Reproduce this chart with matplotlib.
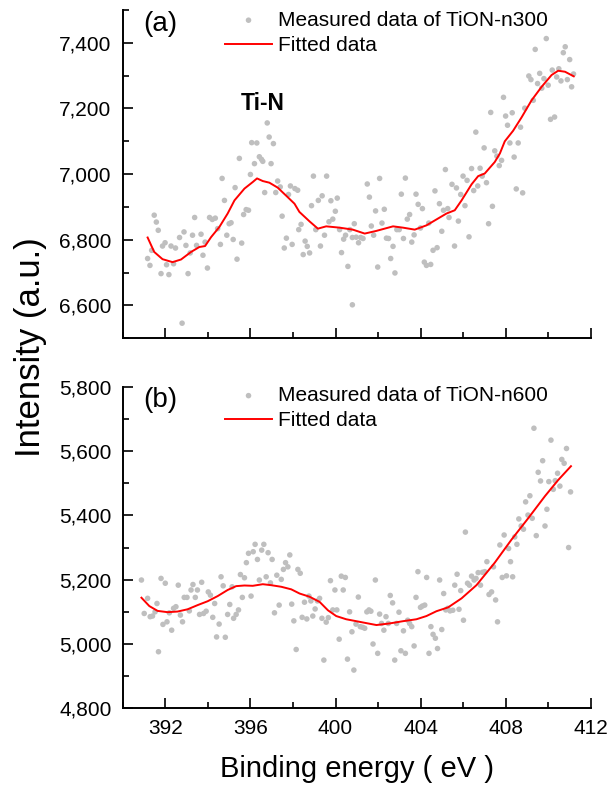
import matplotlib
matplotlib.use("Agg")
import matplotlib.pyplot as plt
from matplotlib.ticker import MultipleLocator, FuncFormatter

plt.rcParams['font.family'] = ['Liberation Sans', 'DejaVu Sans']

# ---------------- Panel (a): TiON-n300 ----------------
a_meas_x = [391.17, 391.28, 391.36, 391.48, 391.58, 391.67, 391.80, 391.87, 391.99, 392.06,
            392.17, 392.27, 392.39, 392.48, 392.67, 392.79, 392.88, 392.97, 393.07, 393.17,
            393.28, 393.38, 393.47, 393.68, 393.77, 393.87, 393.98, 394.08, 394.21, 394.35,
            394.46, 394.59, 394.67, 394.78, 394.89, 395.00, 395.09, 395.19, 395.28, 395.37,
            395.48, 395.59, 395.68, 395.80, 395.91, 396.00, 396.06, 396.19, 396.30, 396.42,
            396.52, 396.58, 396.67, 396.79, 396.88, 396.97, 397.08, 397.19, 397.28, 397.40,
            397.49, 397.59, 397.69, 397.79, 397.88, 397.96, 398.09, 398.22, 398.27, 398.38,
            398.48, 398.57, 398.67, 398.78, 398.87, 398.96, 399.07, 399.19, 399.29, 399.37,
            399.48, 399.58, 399.69, 399.78, 399.87, 399.99, 400.08, 400.19, 400.28, 400.38,
            400.47, 400.58, 400.67, 400.79, 400.79, 400.88, 400.97, 401.08, 401.18, 401.29,
            401.49, 401.59, 401.68, 401.79, 401.88, 401.98, 402.07, 402.18, 402.29, 402.39,
            402.49, 402.59, 402.70, 402.79, 402.88, 402.99, 403.09, 403.19, 403.28, 403.37,
            403.48, 403.58, 403.69, 403.78, 403.88, 403.99, 404.08, 404.17, 404.27, 404.38,
            404.47, 404.58, 404.67, 404.77, 404.88, 404.99, 405.07, 405.16, 405.27, 405.33,
            405.47, 405.59, 405.68, 405.77, 405.88, 405.99, 406.08, 406.18, 406.27, 406.39,
            406.49, 406.59, 406.68, 406.79, 406.89, 406.98, 407.09, 407.19, 407.29, 407.37,
            407.48, 407.58, 407.69, 407.80, 407.89, 407.99, 408.08, 408.19, 408.30, 408.39,
            408.49, 408.58, 408.69, 408.79, 408.89, 409.08, 409.18, 409.29, 409.38, 409.49,
            409.59, 409.69, 409.79, 409.90, 409.99, 410.10, 410.18, 410.29, 410.39, 410.49,
            410.59, 410.70, 410.79, 410.89, 411.00, 411.09, 411.18]
a_meas_y = [6743, 6722, 6768, 6875, 6854, 6829, 6697, 6781, 6791, 6724,
            6694, 6781, 6727, 6775, 6807, 6546, 6824, 6783, 6697, 6760,
            6814, 6868, 6783, 6817, 6753, 6793, 6714, 6868, 6862, 6866,
            6834, 6786, 6987, 6920, 6814, 6849, 6852, 6801, 6959, 6741,
            7048, 6790, 6877, 6892, 6890, 6999, 7096, 7032, 7095, 7053,
            7045, 7039, 6944, 7156, 7113, 7032, 7093, 6944, 6979, 6961,
            6872, 6775, 6805, 6938, 6964, 6786, 6956, 6951, 6831, 6847,
            6755, 6796, 6780, 6760, 6904, 6994, 6831, 6920, 6781, 6934,
            6814, 6994, 6855, 6919, 6863, 6887, 6927, 6831, 6761, 6802,
            6814, 6719, 6831, 6807, 6602, 6849, 6808, 6791, 6807, 6804,
            6970, 6930, 6842, 6814, 6888, 6717, 6987, 6851, 6893, 6805,
            6804, 6743, 6780, 6699, 6831, 6831, 6939, 6804, 6988, 6863,
            6877, 6793, 6815, 6939, 6908, 6836, 6895, 6732, 6722, 6851,
            6725, 6768, 6949, 6776, 6910, 6826, 6890, 7014, 6895, 6868,
            6969, 6781, 6958, 6857, 6938, 6994, 6904, 6981, 6809, 7017,
            6950, 7128, 6964, 7018, 6994, 7080, 6974, 6849, 7188, 6902,
            7071, 7055, 7026, 7042, 7234, 7177, 7149, 7095, 7187, 7052,
            6955, 7095, 7143, 6943, 7201, 7299, 7288, 7225, 7380, 7276,
            7307, 7262, 7291, 7413, 7271, 7167, 7317, 7174, 7296, 7321,
            7284, 7370, 7388, 7288, 7349, 7266, 7305]
a_fit_x = [391.17, 391.48, 391.87, 392.34, 392.74, 393.21, 393.60, 393.87, 394.15, 394.54,
           394.93, 395.25, 395.72, 396.11, 396.31, 396.58, 396.89, 397.28, 397.75, 398.07,
           398.30, 398.78, 399.17, 399.56, 400.19, 400.81, 401.37, 401.91, 402.70, 403.17,
           403.72, 404.27, 404.74, 405.21, 405.60, 405.92, 406.39, 406.70, 407.01, 407.48,
           407.72, 407.95, 408.34, 408.74, 409.21, 409.68, 410.15, 410.46, 410.78, 411.19]
a_fit_y = [6807, 6763, 6741, 6732, 6740, 6763, 6778, 6781, 6808, 6839,
           6880, 6920, 6956, 6976, 6987, 6979, 6974, 6959, 6930, 6910,
           6885, 6856, 6834, 6841, 6837, 6831, 6819, 6827, 6841, 6837,
           6831, 6844, 6862, 6880, 6890, 6920, 6969, 6994, 7002, 7037,
           7063, 7100, 7132, 7173, 7225, 7266, 7302, 7315, 7312, 7298]

# ---------------- Panel (b): TiON-n600 ----------------
b_meas_x = [390.88, 391.01, 391.17, 391.29, 391.40, 391.52, 391.61, 391.68, 391.80, 391.89,
            392.00, 392.08, 392.19, 392.30, 392.39, 392.50, 392.61, 392.71, 392.81, 392.89,
            393.02, 393.13, 393.21, 393.30, 393.41, 393.51, 393.61, 393.71, 393.80, 393.92,
            394.02, 394.12, 394.23, 394.32, 394.41, 394.53, 394.62, 394.72, 394.82, 394.93,
            395.03, 395.14, 395.21, 395.33, 395.44, 395.53, 395.62, 395.72, 395.81, 395.91,
            396.03, 396.13, 396.22, 396.33, 396.42, 396.53, 396.63, 396.74, 396.83, 396.94,
            397.02, 397.13, 397.24, 397.35, 397.45, 397.55, 397.65, 397.76, 397.85, 397.94,
            398.04, 398.15, 398.23, 398.34, 398.43, 398.54, 398.65, 398.75, 398.84, 398.93,
            399.04, 399.15, 399.25, 399.36, 399.45, 399.56, 399.66, 399.76, 399.87, 399.97,
            400.06, 400.17, 400.27, 400.36, 400.46, 400.56, 400.66, 400.77, 400.86, 400.96,
            401.07, 401.16, 401.27, 401.37, 401.47, 401.57, 401.66, 401.76, 401.87, 401.98,
            402.07, 402.16, 402.27, 402.37, 402.48, 402.57, 402.68, 402.78, 402.87, 402.98,
            403.07, 403.19, 403.28, 403.39, 403.48, 403.58, 403.69, 403.78, 403.87, 403.99,
            404.08, 404.19, 404.28, 404.39, 404.48, 404.58, 404.69, 404.79, 404.89, 404.99,
            405.08, 405.18, 405.27, 405.38, 405.51, 405.60, 405.71, 405.80, 405.88, 406.01,
            406.10, 406.20, 406.29, 406.39, 406.51, 406.60, 406.70, 406.81, 406.90, 407.01,
            407.11, 407.21, 407.33, 407.42, 407.52, 407.61, 407.72, 407.83, 407.92, 408.03,
            408.13, 408.22, 408.32, 408.42, 408.52, 408.61, 408.72, 408.83, 408.93, 409.04,
            409.13, 409.24, 409.32, 409.43, 409.52, 409.63, 409.73, 409.84, 409.93, 410.02,
            410.12, 410.23, 410.32, 410.43, 410.54, 410.63, 410.74, 410.85, 410.95, 411.04]
b_meas_y = [5199, 5095, 5142, 5085, 5087, 5100, 5126, 4976, 5204, 5061,
            5189, 5069, 5097, 5043, 5111, 5116, 5183, 5090, 5069, 5145,
            5145, 5103, 5168, 5185, 5145, 5168, 5092, 5192, 5095, 5102,
            5162, 5152, 5083, 5126, 5022, 5062, 5209, 5181, 5021, 5092,
            5123, 5178, 5080, 5092, 5106, 5216, 5145, 5206, 5253, 5282,
            5149, 5287, 5310, 5263, 5199, 5292, 5310, 5209, 5284, 5190,
            5263, 5097, 5214, 5121, 5201, 5232, 5253, 5240, 5277, 5124,
            5072, 4983, 5232, 5220, 5083, 5130, 5078, 5149, 5134, 5087,
            5109, 5134, 5142, 5080, 4950, 5068, 5082, 5197, 5106, 5168,
            5106, 5015, 5211, 5168, 5207, 4953, 5100, 5038, 4919, 5062,
            5146, 5054, 5052, 5049, 5100, 5106, 5102, 5000, 5199, 4971,
            5093, 5064, 5043, 5085, 5064, 5151, 5128, 4950, 5064, 5099,
            4979, 5041, 4971, 5074, 5064, 5054, 4994, 5145, 5225, 5114,
            5118, 5121, 5207, 4971, 5054, 5030, 5018, 4986, 5199, 5045,
            5157, 5106, 5111, 5103, 5105, 5183, 5217, 5108, 5166, 5074,
            5348, 5189, 5183, 5211, 5199, 5204, 5222, 5183, 5223, 5225,
            5256, 5154, 5162, 5240, 5137, 5069, 5308, 5207, 5339, 5212,
            5297, 5256, 5209, 5333, 5310, 5389, 5367, 5357, 5442, 5401,
            5461, 5391, 5671, 5337, 5534, 5507, 5570, 5367, 5419, 5505,
            5634, 5481, 5508, 5531, 5491, 5574, 5562, 5608, 5300, 5473]
b_fit_x = [390.88, 391.25, 391.64, 392.11, 392.58, 393.05, 393.52, 393.99, 394.46, 394.93,
           395.33, 395.72, 396.11, 396.58, 396.97, 397.45, 397.92, 398.31, 398.78, 399.25,
           399.64, 400.03, 400.50, 401.13, 401.92, 402.54, 403.17, 403.80, 404.27, 404.74,
           405.29, 405.92, 406.62, 407.48, 408.27, 409.05, 409.84, 410.46, 411.06]
b_fit_y = [5144, 5118, 5103, 5099, 5101, 5108, 5121, 5133, 5149, 5168,
           5180, 5182, 5181, 5186, 5183, 5178, 5170, 5157, 5147, 5131,
           5105, 5087, 5077, 5069, 5059, 5064, 5071, 5077, 5087, 5102,
           5114, 5142, 5183, 5253, 5325, 5391, 5460, 5510, 5553]

x_ticks = [392, 396, 400, 404, 408, 412]
a_yticks = [6600, 6800, 7000, 7200, 7400]
b_yticks = [4800, 5000, 5200, 5400, 5600, 5800]

panel_labels = ['(a)', '(b)']
meas_labels = ['Measured data of TiON-n300', 'Measured data of TiON-n600']
fit_label = 'Fitted data'

DOT = '#bfbfbf'
RED = '#ff0000'

fig = plt.figure(figsize=(6.09, 7.88), dpi=100)
ax_a = fig.add_axes([0.2015, 0.5707, 0.7689, 0.4166])
ax_b = fig.add_axes([0.2015, 0.1011, 0.7689, 0.4081])

fmt = FuncFormatter(lambda v, p: f'{int(round(v)):,}')

def style(ax, ylim, yticks, show_xlabels):
    ax.set_xlim(390, 412)
    ax.set_ylim(*ylim)
    ax.set_xticks(x_ticks)
    ax.xaxis.set_minor_locator(MultipleLocator(2))
    ax.set_yticks(yticks)
    ax.yaxis.set_minor_locator(MultipleLocator(100))
    ax.yaxis.set_major_formatter(fmt)
    for s in ['top', 'right']:
        ax.spines[s].set_visible(False)
    for s in ['left', 'bottom']:
        ax.spines[s].set_linewidth(1.4)
    ax.tick_params(which='major', direction='in', length=7.5, width=1.2,
                   labelsize=15, pad=8)
    ax.tick_params(which='minor', direction='in', length=4, width=1.2)
    if not show_xlabels:
        ax.tick_params(axis='x', labelbottom=False)

for ax, mx, my, fx, fy, ylim, yt, lab, ml, showx, ly in [
        (ax_a, a_meas_x, a_meas_y, a_fit_x, a_fit_y, (6500, 7500), a_yticks, panel_labels[0], meas_labels[0], False, 0.998),
        (ax_b, b_meas_x, b_meas_y, b_fit_x, b_fit_y, (4800, 5800), b_yticks, panel_labels[1], meas_labels[1], True, 1.002)]:
    ax.scatter(mx, my, s=16, color=DOT, edgecolors='none', label=ml, zorder=2)
    ax.plot(fx, fy, color=RED, lw=1.4, label=fit_label, zorder=3)
    style(ax, ylim, yt, showx)
    ax.text(0.043, 0.958, lab, transform=ax.transAxes, fontsize=20, va='center', ha='left')
    ax.legend(loc='upper left', bbox_to_anchor=(0.2175, ly),
              frameon=False, fontsize=15, handlelength=2.3, handletextpad=0.25,
              labelspacing=0.3, borderpad=0, borderaxespad=0, scatterpoints=1)

ax_a.text(396.56, 7216, 'Ti-N', fontsize=16.5, fontweight='bold', ha='center', va='center')

ax_b.set_xlabel('Binding energy ( eV )', fontsize=21, labelpad=12)
fig.text(0.05, 0.56, 'Intensity (a.u.)', rotation=90, fontsize=25, ha='center', va='center')

fig.savefig('out.png', dpi=100)
